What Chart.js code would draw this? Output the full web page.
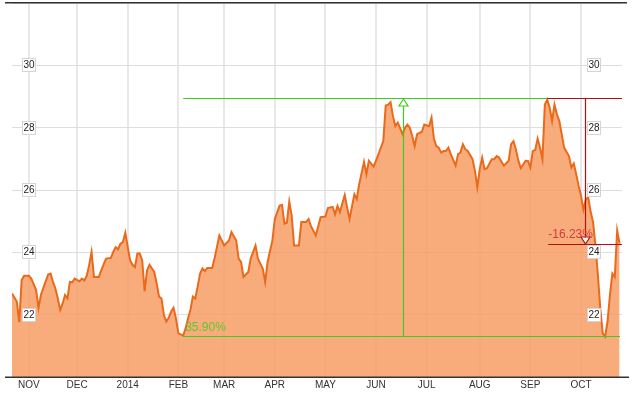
<!DOCTYPE html>
<html>
<head>
<meta charset="utf-8">
<script src="https://cdn.jsdelivr.net/npm/chart.js@4.4.1/dist/chart.umd.min.js"></script>
<style>
  body { margin: 0; background: #fff; }
</style>
</head>
<body>
<canvas id="priceChart" width="632" height="394"></canvas>
<script>
// trading day index (0 = 22 Oct 2013) and close price
const days = [0, 2, 3, 4, 5, 7, 8, 10, 11, 12, 13, 15, 16, 17, 18, 19, 20, 21, 22, 23,
  24, 25, 26, 28, 29, 30, 31, 32, 33, 34, 36, 37, 39, 41, 42, 43, 44, 45, 46, 47,
  48, 49, 50, 51, 52, 53, 54, 55, 56, 57, 59, 60, 61, 62, 63, 64, 65, 66, 67, 68,
  69, 70, 71, 72, 73, 74, 75, 76, 77, 78, 79, 80, 81, 83, 84, 86, 88, 90, 91, 93,
  94, 95, 96, 98, 99, 101, 102, 104, 105, 106, 108, 109, 111, 112, 113, 114, 115, 116, 117, 119,
  120, 122, 123, 124, 126, 128, 130, 131, 133, 134, 135, 136, 138, 139, 140, 142, 143, 144, 146, 147,
  148, 150, 152, 154, 155, 156, 157, 158, 159, 160, 162, 163, 164, 165, 166, 167, 168, 170, 171, 173,
  174, 175, 176, 177, 178, 179, 180, 181, 182, 184, 185, 186, 187, 188, 189, 191, 192, 193, 194, 195,
  196, 197, 199, 200, 201, 202, 204, 206, 207, 208, 209, 210, 211, 213, 214, 215, 216, 217, 218, 219,
  220, 221, 222, 223, 224, 225, 226, 227, 228, 229, 231, 232, 233, 234, 235, 236, 237, 238, 239, 240,
  241, 242, 243, 244, 245, 246, 247, 248, 249, 250, 251, 252];
const prices = [22.68, 22.42, 21.76, 23.10, 23.25, 23.25, 23.16, 22.79, 22.22, 22.63, 22.86, 23.29, 23.32, 23.05, 22.84, 22.52, 22.15, 22.36, 22.63, 22.52,
  23.05, 23.04, 23.16, 23.07, 23.16, 23.10, 23.25, 23.59, 24.01, 23.21, 23.21, 23.42, 23.80, 23.82, 24.01, 24.17, 24.10, 24.28, 24.33, 24.63,
  24.17, 23.74, 23.60, 23.53, 23.96, 23.96, 23.74, 22.75, 23.42, 23.60, 23.37, 23.00, 22.58, 22.52, 21.99, 21.78, 21.90, 22.10, 22.22, 21.88,
  21.40, 21.37, 21.33, 21.56, 21.88, 22.15, 22.58, 22.52, 22.90, 23.32, 23.48, 23.40, 23.50, 23.50, 23.80, 24.54, 24.22, 24.38, 24.65, 24.38,
  23.80, 23.69, 23.21, 23.37, 23.80, 24.22, 23.80, 23.48, 23.05, 23.69, 24.38, 25.07, 25.50, 25.52, 24.92, 24.95, 25.63, 25.18, 24.22, 24.22,
  24.97, 24.97, 25.07, 24.84, 24.54, 25.13, 25.15, 25.42, 25.46, 25.22, 25.49, 25.29, 25.84, 25.44, 25.07, 25.86, 25.71, 26.19, 26.90, 26.51,
  26.94, 26.75, 27.15, 27.57, 28.71, 28.74, 28.82, 28.37, 28.05, 28.16, 27.79, 28.00, 28.10, 28.00, 27.73, 27.41, 27.79, 27.87, 28.10, 28.05,
  28.32, 27.63, 27.41, 27.36, 27.20, 27.25, 27.25, 27.36, 27.15, 26.78, 27.15, 27.20, 27.47, 27.31, 27.25, 26.99, 26.62, 26.09, 26.67, 27.04,
  26.67, 26.70, 26.99, 26.99, 27.09, 27.04, 26.78, 26.94, 27.47, 27.57, 27.30, 26.95, 26.70, 26.94, 26.93, 26.72, 27.25, 27.28, 27.65, 27.36,
  26.99, 28.74, 28.90, 28.64, 28.21, 28.74, 28.43, 28.21, 27.79, 27.36, 27.09, 26.72, 26.85, 26.51, 26.14, 25.82, 25.37, 25.71, 25.76, 25.30,
  24.97, 24.22, 23.27, 22.20, 21.40, 21.30, 21.78, 22.63, 23.32, 23.21, 24.70, 24.28];

// month ticks on the trading day axis
const monthDays = [7, 27, 48, 69, 88, 109, 130, 151, 172, 194, 215, 236];
const monthLabels = ["NOV", "DEC", "2014", "FEB", "MAR", "APR", "MAY", "JUN", "JUL", "AUG", "SEP", "OCT"];
const priceTicks = [22, 24, 26, 28, 30];

// range annotations
const rangeLow = 21.30, rangeHigh = 28.94, lastClose = 24.28;
const lowDay = 71, highDay = 222, endDay = 253;
const upText = "35.90%", downText = "-16.23%";

const FONT = "'Liberation Sans', Arial, sans-serif";

function openTriangle(ctx, x, y, up) {
  // apex at (x,y)
  const h = up ? 7 : -7;
  ctx.beginPath();
  ctx.moveTo(x, y);
  ctx.lineTo(x - 4.5, y + h);
  ctx.lineTo(x + 4.5, y + h);
  ctx.closePath();
  ctx.fillStyle = "#fff";
  ctx.fill();
  ctx.stroke();
}

const overlayPlugin = {
  id: "overlay",
  afterDatasetsDraw(chart) {
    const ctx = chart.ctx;
    const xs = chart.scales.x, ys = chart.scales.y;
    const area = chart.chartArea;
    ctx.save();

    // frame lines
    ctx.fillStyle = "#333";
    ctx.fillRect(5, area.top - 1, 622, 1.5);
    ctx.fillRect(5, area.bottom - 0.5, 624, 1.5);

    // green range: low -> high
    const xLow = xs.getPixelForValue(lowDay);
    const xHigh = xs.getPixelForValue(highDay);
    const xEnd = xs.getPixelForValue(endDay);
    const yLow = ys.getPixelForValue(rangeLow);
    const yHigh = ys.getPixelForValue(rangeHigh);
    const yLast = ys.getPixelForValue(lastClose);

    ctx.strokeStyle = "#3fcc1f";
    ctx.lineWidth = 1.2;
    ctx.beginPath();
    ctx.moveTo(xLow, Math.round(yHigh) + 0.5);
    ctx.lineTo(xEnd, Math.round(yHigh) + 0.5);
    ctx.moveTo(xLow, Math.round(yLow) + 0.5);
    ctx.lineTo(xEnd - 2, Math.round(yLow) + 0.5);
    const xMidG = Math.round((xLow + xEnd) / 2) + 0.5;
    ctx.moveTo(xMidG, yLow);
    ctx.lineTo(xMidG, yHigh + 2);
    ctx.stroke();
    openTriangle(ctx, xMidG, Math.round(yHigh) + 1, true);

    ctx.font = "12px " + FONT;
    ctx.fillStyle = "#5cc82e";
    ctx.textAlign = "left";
    ctx.textBaseline = "alphabetic";
    ctx.fillText(upText, xLow + 2, yLow - 5);

    // red range: high -> last close
    ctx.strokeStyle = "#b01010";
    ctx.beginPath();
    ctx.moveTo(xHigh, Math.round(yHigh) + 0.5);
    ctx.lineTo(xEnd, Math.round(yHigh) + 0.5);
    ctx.moveTo(xHigh + 1, Math.round(yLast) + 0.5);
    ctx.lineTo(xEnd, Math.round(yLast) + 0.5);
    const xMidR = Math.round((xHigh + xEnd) / 2) + 0.5;
    ctx.moveTo(xMidR, yHigh);
    ctx.lineTo(xMidR, yLast - 2);
    ctx.stroke();
    openTriangle(ctx, xMidR, Math.round(yLast), false);

    ctx.fillStyle = "#d23c3c";
    ctx.fillText(downText, xHigh + 1, yLast - 6);

    // price labels in boxes, both sides
    ctx.font = "10px " + FONT;
    ctx.textAlign = "center";
    ctx.textBaseline = "middle";
    ctx.lineWidth = 1;
    [area.left + 17, area.right - 28].forEach(function (cx) {
      priceTicks.forEach(function (v) {
        const cy = Math.round(ys.getPixelForValue(v));
        ctx.fillStyle = "#fff";
        ctx.fillRect(cx - 7, cy - 7, 14, 14);
        ctx.strokeStyle = "#d4d4d4";
        ctx.strokeRect(cx - 7 + 0.5, cy - 7 + 0.5, 13, 13);
        ctx.fillStyle = "#222";
        ctx.fillText(String(v), cx, cy + 0.5);
      });
    });
    ctx.restore();
  }
};

const priceData = {
  datasets: [{
    data: days.map(function (d, i) { return { x: d, y: prices[i] }; }),
    borderColor: "#ea6a1c",
    borderWidth: 2,
    backgroundColor: "rgba(248,158,100,0.85)",
    fill: "start",
    pointRadius: 0,
    tension: 0
  }]
};

const priceConfig = {
  type: "line",
  data: priceData,
  options: {
    responsive: false,
    animation: false,
    layout: { padding: { left: 12, right: 10, top: 3, bottom: 1 } },
    plugins: { legend: { display: false }, tooltip: { enabled: false } },
    scales: {
      x: {
        type: "linear",
        min: 0,
        max: endDay,
        afterBuildTicks: function (axis) {
          axis.ticks = monthDays.map(function (d) { return { value: d }; });
        },
        ticks: {
          autoSkip: false,
          maxRotation: 0,
          padding: 2,
          color: "#333",
          font: { family: FONT, size: 10 },
          callback: function (value, index) { return monthLabels[index]; }
        },
        grid: { color: "#e8e8e8", lineWidth: 2, drawTicks: false },
        border: { display: false }
      },
      y: {
        min: 20,
        max: 32,
        ticks: { display: false, stepSize: 2 },
        grid: { color: "#dedede", lineWidth: 1, drawTicks: false },
        border: { display: false }
      }
    }
  },
  plugins: [overlayPlugin]
};

var priceChart = new Chart(document.getElementById("priceChart"), priceConfig);
</script>
</body>
</html>
